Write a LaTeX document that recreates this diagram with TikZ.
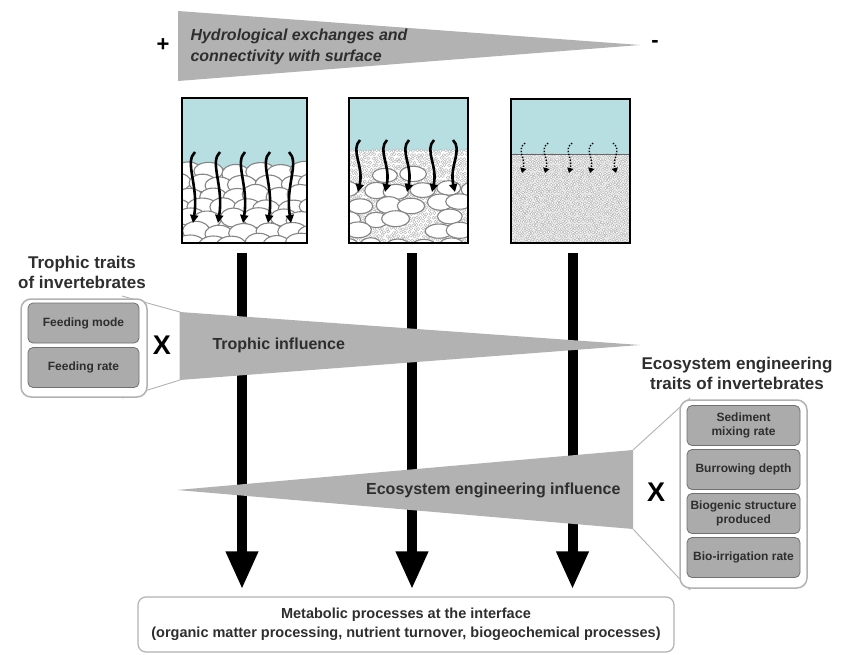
\documentclass[tikz,border=0pt]{standalone}
\usepackage{fontspec}
\setmainfont{Liberation Sans}
\usetikzlibrary{arrows.meta}
\definecolor{water}{HTML}{B7DFE2}
\definecolor{wedgegray}{HTML}{B2B2B2}
\definecolor{ink}{HTML}{2E2E2E}
\definecolor{traitfill}{HTML}{ABABAB}
\definecolor{traitedge}{HTML}{707070}
\definecolor{pebbleedge}{HTML}{858585}

\begin{document}
\begin{tikzpicture}[x=1pt,y=-1pt,
  sedbox/.style={draw=black, line width=2pt, inner sep=0pt, fill=none},
  pebble/.style={draw=pebbleedge, fill=white, line width=1.1pt},
  grain/.style={draw=gray!65, fill=white, line width=0.35pt},
  flow/.style={line width=2.6pt, -{Triangle[length=8pt,width=8pt]}},
  seep/.style={line width=1.4pt, dash pattern=on 1.4pt off 1.6pt, -{Triangle[length=5pt,width=6pt]}},
  bigarrow/.style={line width=10pt, -{Triangle[length=38pt,width=30pt]}, shorten >=7pt, shorten <=9pt},
  funnel/.style={fill=white, draw=gray!60, line width=0.9pt},
  traitouter/.style={draw=gray!60, line width=1.5pt, fill=white, rounded corners=10pt, inner sep=0pt},
  traitbox/.style={draw=traitedge, fill=traitfill, line width=0.8pt, rounded corners=5pt,
    inner sep=0pt, minimum width=111pt, minimum height=40pt, align=center, text=ink,
    font=\fontsize{12}{14}\selectfont\bfseries},
  title/.style={text=ink, align=center, font=\fontsize{17}{20}\selectfont\bfseries},
  wedgelabel/.style={text=ink, font=\fontsize{16}{19}\selectfont\bfseries},
  times/.style={text=black, font=\fontsize{27}{27}\selectfont\bfseries},
  sign/.style={text=black, font=\fontsize{22}{22}\selectfont\bfseries},
  metabox/.style={draw=gray!60, line width=1.2pt, rounded corners=8pt, fill=white,
    minimum width=536pt, minimum height=55pt, align=center, text=ink,
    font=\fontsize{14.5}{19}\selectfont\bfseries}
]
\useasboundingbox (0,0) rectangle (856,655);

% ---------- top gradient: hydrological exchanges ----------
\fill[wedgegray] (178,11) -- (640,45) -- (178,81) -- cycle;
\node[sign] (plus) at (163,45) {+};
\node[sign] (minus) at (655,44) {-};
\node[text=ink, anchor=west, align=left, font=\fontsize{16}{21}\selectfont\bfseries\itshape]
  (hydro) at (187,47) {Hydrological exchanges and\\connectivity with surface};

% ---------- sediment column 1: coarse gravel ----------
\fill[water] (182,98) rectangle (307,168);
\draw[gray!70, line width=0.6pt] (182,168) -- (307,168);
\begin{scope}
  \clip (182,98) rectangle (307,243);
  \pgfmathsetseed{11}
  \foreach \r in {0,...,6} {
    \foreach \c in {-1,...,5} {
      \pgfmathsetmacro\xx{188 + \c*23 + mod(\r,2)*11 + 4*rand}
      \pgfmathsetmacro\yy{172 + \r*12 + 2.5*rand}
      \pgfmathsetmacro\rx{13 + 2.5*rnd}
      \pgfmathsetmacro\ry{8.5 + 1.5*rnd}
      \draw[pebble] (\xx,\yy) ellipse [x radius=\rx, y radius=\ry];
    }
  }
\end{scope}
\foreach \x/\s in {193/1, 218/1, 243/1, 268/1, 291/-1} {
  \draw[flow] (\x+2*\s,152) .. controls (\x-9*\s,162) and (\x+6*\s,186) .. (\x,223);
}
\node[sedbox, minimum width=125pt, minimum height=145pt] (b1) at (244.5,170.5) {};

% ---------- sediment column 2: gravel clogged with fines ----------
\fill[water] (349,98) rectangle (468,151);
\begin{scope}
  \clip (349,149) rectangle (468,243);
  \pgfmathsetseed{23}
  \foreach \j in {0,...,25} {
    \foreach \i in {0,...,30} {
      \pgfmathsetmacro\xx{349 + \i*4 + mod(\j,2)*2 + 0.9*rand}
      \pgfmathsetmacro\yy{151 + \j*3.7 + 0.9*rand}
      \draw[grain] (\xx,\yy) circle [radius=1.6];
    }
  }
  \foreach \r in {0,...,5} {
    \foreach \c in {-1,...,4} {
      \pgfmathsetmacro\keep{rnd}
      \pgfmathsetmacro\xx{362 + \c*25 + mod(\r,2)*12 + 4*rand}
      \pgfmathsetmacro\yy{176 + \r*14 + 2.5*rand}
      \pgfmathsetmacro\rx{11 + 3*rnd}
      \pgfmathsetmacro\ry{7 + 1.5*rnd}
      \ifdim\keep pt>0.22pt
        \draw[pebble] (\xx,\yy) ellipse [x radius=\rx, y radius=\ry];
      \fi
    }
  }
\end{scope}
\foreach \x/\s in {358/1, 385/1, 407/1, 432/1, 455/-1} {
  \draw[flow] (\x+2*\s,140) .. controls (\x-8*\s,150) and (\x+6*\s,166) .. (\x,192);
}
\node[sedbox, minimum width=119pt, minimum height=145pt] (b2) at (408.5,170.5) {};

% ---------- sediment column 3: fine sediment ----------
\fill[water] (511,99) rectangle (630,154);
\fill[gray!18] (511,154) rectangle (630,243);
\begin{scope}
  \clip (511,154) rectangle (630,243);
  \pgfmathsetseed{37}
  \foreach \j in {0,...,24} {
    \foreach \i in {0,...,30} {
      \pgfmathsetmacro\xx{511 + \i*4 + mod(\j,2)*2 + 0.8*rand}
      \pgfmathsetmacro\yy{155 + \j*3.7 + 0.8*rand}
      \draw[grain] (\xx,\yy) circle [radius=1.55];
    }
  }
\end{scope}
\draw[gray!80!black, line width=0.8pt] (511,154) -- (630,154);
\foreach \x/\s in {522/1, 545/1, 569/1, 590/1, 616/-1} {
  \draw[seep] (\x+3*\s,143) .. controls (\x-6*\s,150) and (\x+4*\s,158) .. (\x,173);
}
\node[sedbox, minimum width=119pt, minimum height=144pt] (b3) at (570.5,171) {};

% ---------- outcome box ----------
\node[metabox] (meta) at (406,624.5)
  {Metabolic processes at the interface\\(organic matter processing, nutrient turnover, biogeochemical processes)};

% ---------- main vertical arrows ----------
\draw[bigarrow] ([xshift=-2.5pt]b1.south) -- ([xshift=-2.5pt]b1.south |- meta.north);
\draw[bigarrow] ([xshift=3.5pt]b2.south) -- ([xshift=3.5pt]b2.south |- meta.north);
\draw[bigarrow] ([xshift=2pt]b3.south) -- ([xshift=2pt]b3.south |- meta.north);

% ---------- trophic influence ----------
\draw[funnel] (122,296) -- (180,312) -- (180,380) -- (122,398);
\fill[wedgegray] (180,312) -- (640,345) -- (180,380) -- cycle;
\node[wedgelabel, anchor=west] (troph) at (209,345) {Trophic influence};
\node[traitouter, minimum width=126pt, minimum height=98pt] (tt) at (84,348) {};
\node[traitbox] (fmode) at (83.5,323) {Feeding mode};
\node[traitbox] (frate) at (83.5,367.5) {Feeding rate};
\node[times] (x1) at (162,345) {X};
\node[title] (ttitle) at (82,272) {Trophic traits\\of invertebrates};

% ---------- ecosystem engineering influence ----------
\draw[funnel] (633,450) -- (690,398) (690,590) -- (633,529);
\fill[wedgegray] (177,490) -- (633,450) -- (633,529) -- cycle;
\node[wedgelabel, anchor=east] (eng) at (624,490) {Ecosystem engineering influence};
\node[traitouter, minimum width=127pt, minimum height=188pt] (et) at (743.5,494) {};
\node[traitbox, minimum width=113pt] (mix) at (743.5,425.5) {Sediment\\mixing rate};
\node[traitbox, minimum width=113pt] (burrow) at (743.5,469.5) {Burrowing depth};
\node[traitbox, minimum width=113pt] (biog) at (743.5,513.5) {Biogenic structure\\produced};
\node[traitbox, minimum width=113pt] (irrig) at (743.5,557.5) {Bio-irrigation rate};
\node[times] (x2) at (656,492) {X};
\node[title] (etitle) at (737,373) {Ecosystem engineering\\traits of invertebrates};
\end{tikzpicture}
\end{document}
